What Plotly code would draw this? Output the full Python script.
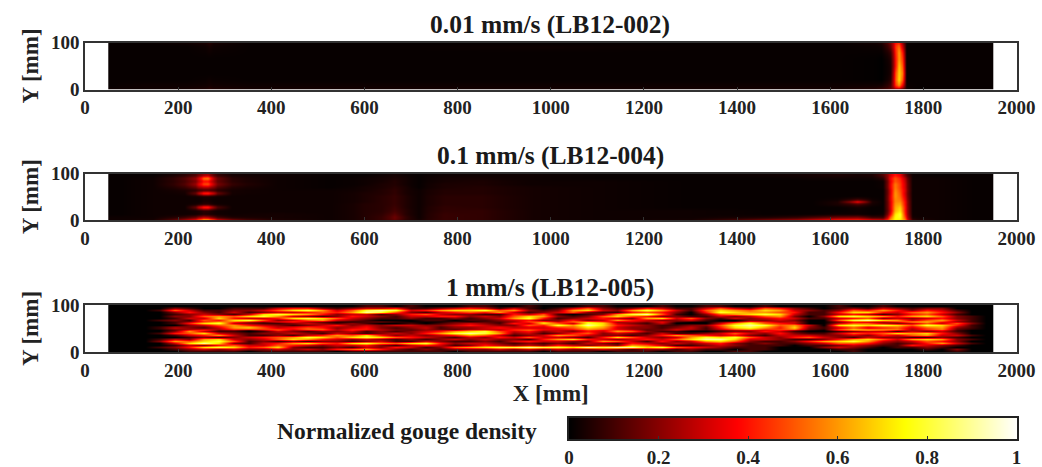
import plotly.graph_objects as go

W, H = 1042, 467
HOT = [[0, "#000000"], [0.375, "#ff0000"], [0.75, "#ffff00"], [1, "#ffffff"]]
TICKS_X = [0, 200, 400, 600, 800, 1000, 1200, 1400, 1600, 1800, 2000]
TICKS_Y = [0, 100]
TICKS_C = [0, 0.2, 0.4, 0.6, 0.8, 1]
TICKTEXT_C = ["0", "0.2", "0.4", "0.6", "0.8", "1"]
SCALE_C = [0, 0.1, 0.2, 0.3, 0.4, 0.5, 0.6, 0.7, 0.8, 0.9, 1]
TITLES = ["0.01 mm/s (LB12-002)", "0.1 mm/s (LB12-004)", "1 mm/s (LB12-005)"]

# Panel 1: percent density
X_002 = [52, 100, 250, 268, 285, 600, 1000, 1400, 1680, 1712, 1732, 1740, 1748, 1755, 1762, 1775, 1850, 1948]
Y_002 = [2, 8, 20, 35, 50, 65, 80, 92, 98]
Z_002 = [
    [2, 2, 3, 6, 3, 3, 3, 3, 3, 8, 14, 20, 20, 12, 3, 1, 1, 1],
    [1, 2, 2, 3, 2, 2, 2, 2, 2, 3, 10, 45, 60, 35, 2, 1, 1, 1],
    [1, 1, 1, 2, 1, 1, 1, 1, 1, 0, 6, 50, 72, 50, 1, 1, 1, 1],
    [1, 1, 1, 1, 1, 1, 1, 1, 1, 0, 4, 48, 70, 55, 1, 1, 1, 1],
    [1, 1, 1, 1, 1, 1, 1, 1, 1, 0, 4, 40, 68, 50, 1, 1, 1, 1],
    [1, 1, 1, 1, 1, 1, 1, 1, 1, 0, 5, 40, 62, 45, 1, 1, 1, 1],
    [1, 1, 1, 2, 1, 1, 1, 1, 1, 1, 8, 42, 62, 40, 1, 1, 1, 1],
    [1, 1, 1, 3, 1, 1, 2, 1, 1, 2, 14, 45, 55, 30, 1, 1, 1, 1],
    [1, 1, 2, 5, 1, 1, 1, 1, 1, 4, 18, 40, 45, 22, 2, 1, 1, 1],
]

# Panel 2: percent density
X_004 = [52, 150, 228, 244, 254, 264, 276, 292, 400, 550, 600, 640, 665, 685, 710, 760, 850, 950, 1100, 1300,
         1500, 1560, 1620, 1660, 1690, 1715, 1728, 1738, 1750, 1760, 1772, 1800, 1948]
Y_004 = [2, 6, 12, 22, 28, 34, 40, 46, 52, 58, 64, 72, 78, 84, 90, 96]
Z_004 = [
    [2, 3, 24, 50, 66, 64, 46, 18, 4, 2, 5, 8, 14, 7, 3, 8, 7, 3, 2, 3, 18, 30, 40, 42, 34, 30, 60, 75, 72, 58, 8, 2, 1],
    [2, 2, 8, 20, 26, 24, 14, 4, 3, 2, 5, 8, 16, 8, 2, 8, 7, 3, 2, 2, 4, 10, 16, 18, 8, 8, 50, 75, 78, 48, 3, 2, 1],
    [1, 2, 2, 3, 5, 4, 3, 2, 3, 2, 5, 7, 13, 6, 2, 8, 7, 3, 2, 2, 1, 1, 2, 2, 1, 2, 34, 72, 80, 42, 2, 2, 1],
    [1, 2, 2, 4, 6, 6, 3, 2, 2, 2, 5, 6, 10, 6, 2, 7, 7, 3, 2, 2, 1, 1, 1, 2, 1, 1, 28, 64, 72, 40, 2, 2, 1],
    [1, 2, 2, 30, 45, 46, 22, 2, 2, 2, 5, 6, 9, 5, 2, 7, 6, 3, 2, 1, 1, 1, 1, 3, 1, 1, 30, 62, 68, 40, 2, 2, 1],
    [1, 2, 2, 4, 6, 6, 3, 2, 2, 2, 5, 6, 8, 5, 2, 6, 6, 3, 2, 1, 1, 1, 4, 10, 3, 1, 30, 60, 62, 38, 2, 2, 1],
    [1, 2, 2, 2, 4, 4, 2, 2, 2, 2, 4, 6, 8, 5, 2, 6, 6, 3, 2, 1, 1, 1, 4, 36, 4, 1, 30, 58, 58, 38, 2, 2, 1],
    [1, 2, 2, 2, 3, 3, 2, 2, 2, 2, 4, 6, 8, 5, 2, 6, 6, 3, 2, 1, 1, 1, 2, 8, 2, 1, 32, 58, 55, 35, 2, 2, 1],
    [1, 2, 2, 3, 4, 4, 3, 2, 2, 2, 4, 6, 8, 5, 2, 6, 6, 3, 2, 1, 1, 1, 1, 1, 1, 1, 32, 60, 52, 32, 2, 2, 1],
    [1, 2, 3, 28, 44, 46, 30, 3, 2, 2, 4, 5, 7, 4, 2, 5, 5, 3, 2, 1, 1, 1, 1, 1, 1, 1, 30, 60, 50, 30, 2, 2, 1],
    [1, 2, 4, 8, 10, 10, 8, 3, 2, 2, 3, 5, 7, 4, 2, 5, 5, 3, 2, 1, 1, 1, 1, 1, 1, 1, 30, 58, 48, 32, 2, 2, 1],
    [1, 2, 8, 22, 26, 26, 18, 5, 2, 1, 3, 4, 6, 4, 1, 4, 5, 3, 2, 1, 1, 1, 1, 1, 1, 2, 34, 56, 46, 30, 2, 2, 1],
    [1, 2, 12, 34, 48, 50, 28, 8, 2, 1, 2, 4, 5, 3, 1, 4, 4, 2, 2, 1, 1, 1, 1, 1, 1, 2, 34, 56, 46, 30, 2, 2, 1],
    [1, 2, 10, 26, 38, 38, 22, 6, 2, 1, 2, 3, 5, 3, 1, 3, 4, 2, 2, 1, 1, 1, 1, 1, 1, 2, 32, 50, 44, 28, 2, 2, 1],
    [1, 2, 12, 32, 55, 58, 26, 6, 2, 1, 2, 3, 4, 3, 1, 3, 3, 2, 1, 1, 1, 2, 2, 2, 2, 6, 36, 50, 42, 26, 2, 2, 1],
    [1, 1, 6, 16, 22, 24, 12, 3, 2, 1, 1, 2, 3, 2, 1, 2, 2, 2, 1, 1, 2, 3, 4, 3, 4, 12, 30, 40, 34, 16, 2, 1, 1],
]

# Panel 3: tenths of full scale, first row at the top of the strip
Y_005 = [98, 94, 90, 86, 81, 77, 73, 69, 65, 61, 57, 52, 48, 44, 40, 36, 32, 27, 23, 19, 15, 11, 6, 2]
X_005 = [66, 98, 130, 161, 193, 224, 256, 288, 319, 351, 383, 414, 446, 478, 509, 541, 573, 604, 636, 668,
         699, 731, 763, 794, 826, 858, 889, 921, 953, 984, 1016, 1048, 1079, 1111, 1143, 1174, 1206, 1238, 1269, 1301,
         1333, 1364, 1396, 1428, 1459, 1491, 1523, 1554, 1586, 1618, 1649, 1681, 1713, 1744, 1776, 1808, 1839, 1871, 1903, 1934]
Z_005 = [
    [0,0,0,0,0,0,0,0,0,0, 0,0,0,0,0,0,0,1,1,0, 1,0,0,0,1,1,0,0,1,0, 0,0,1,1,0,0,0,1,0,0, 1,1,0,0,1,0,0,0,0,1, 0,0,1,0,0,0,0,0,0,0],
    [0,0,0,0,2,1,0,0,1,1, 1,3,4,4,2,1,2,3,3,4, 1,1,2,3,4,3,1,3,1,0, 1,3,5,2,1,2,4,3,1,1, 3,5,3,2,5,4,2,1,0,1, 2,1,3,2,1,2,2,0,0,0],
    [0,0,0,1,5,3,1,1,2,2, 3,5,7,8,6,3,5,8,9,8, 3,4,6,7,7,8,5,6,2,1, 2,6,7,3,2,6,8,6,3,1, 5,7,6,5,7,6,3,2,1,2, 5,4,6,4,2,4,3,1,0,0],
    [0,0,0,0,2,4,2,1,3,1, 2,3,3,4,5,4,6,9,8,5, 2,1,3,4,5,4,6,3,1,2, 3,5,2,1,1,4,5,4,2,0, 4,8,7,6,6,5,4,1,1,4, 7,7,4,3,5,6,4,2,0,0],
    [0,0,0,0,1,2,3,2,1,3, 7,8,7,6,4,2,3,3,1,2, 4,5,3,2,2,1,1,4,3,5, 1,0,1,2,6,8,9,5,1,0, 2,5,6,7,8,7,3,1,1,3, 4,3,1,2,4,5,3,1,0,0],
    [0,0,0,0,2,2,5,6,5,7, 8,6,3,2,1,2,4,3,2,1, 3,3,4,4,2,3,2,5,7,6, 2,1,2,5,7,5,4,2,2,1, 1,3,2,3,5,6,2,0,2,7, 8,7,6,4,6,7,5,2,1,0],
    [0,0,0,0,1,3,3,7,4,3, 3,4,7,8,7,5,3,2,1,1, 2,1,1,2,1,2,3,6,8,4, 1,2,3,4,3,2,6,7,3,5, 2,1,3,2,3,4,3,1,1,3, 4,5,2,3,2,3,4,2,1,0],
    [0,0,0,1,2,1,5,4,7,8, 5,2,3,5,6,3,2,1,0,0, 0,1,1,0,1,1,2,3,4,2, 2,4,2,3,6,4,3,2,2,3, 1,0,0,2,2,3,2,0,0,5, 8,9,7,6,3,5,6,3,1,0],
    [0,0,0,0,1,2,4,6,5,3, 2,4,5,2,1,0,0,1,2,1, 0,0,0,1,0,1,1,2,5,6, 3,6,7,5,2,3,2,4,1,0, 0,1,2,5,4,2,3,0,0,1, 3,2,2,4,7,7,4,2,1,0],
    [0,0,0,0,1,4,7,8,3,2, 1,1,2,3,2,1,2,1,0,0, 1,0,1,2,3,2,1,4,3,7, 5,3,8,7,3,2,1,3,0,0, 0,3,6,8,5,4,3,0,0,3, 5,5,3,2,3,5,3,5,2,0],
    [0,0,0,0,0,2,3,5,6,4, 3,2,1,2,3,4,2,3,2,3, 3,2,2,3,4,3,2,2,5,4, 8,6,9,7,4,3,2,1,1,2, 2,5,8,9,8,5,6,3,0,7, 8,7,8,7,5,8,7,4,1,0],
    [0,0,0,1,3,2,1,3,6,7, 5,3,4,5,4,2,3,4,2,1, 2,3,1,2,2,3,4,3,3,3, 4,5,7,6,3,2,2,1,2,3, 1,4,7,8,6,4,7,2,1,3, 5,3,4,5,3,5,6,2,1,0],
    [0,0,0,0,1,3,5,2,3,2, 4,6,3,5,6,3,5,4,3,2, 1,2,2,1,3,3,2,5,6,4, 3,3,5,4,4,3,1,2,4,2, 1,2,3,4,3,5,4,1,0,6, 8,8,7,6,2,4,5,1,0,0],
    [0,0,0,0,2,6,3,1,1,0, 1,3,2,1,2,2,3,1,2,1, 2,3,4,6,7,8,5,3,4,2, 3,2,4,3,6,5,2,1,1,0, 0,1,2,2,4,3,1,0,0,1, 2,3,3,1,3,2,3,1,0,0],
    [0,0,0,1,4,5,7,3,2,1, 2,2,3,2,1,3,2,1,2,3, 2,4,6,8,9,8,6,2,3,1, 2,4,5,2,3,2,1,3,1,1, 2,3,5,3,2,4,2,1,1,3, 5,4,5,7,6,7,4,2,0,0],
    [0,0,0,0,1,3,4,6,3,1, 1,2,1,3,4,6,5,7,4,2, 3,2,3,4,6,5,3,1,2,3, 6,5,3,2,2,1,2,4,6,5, 4,3,4,2,1,3,3,3,2,2, 3,2,4,3,5,6,3,3,1,0],
    [0,0,0,0,0,1,2,1,2,3, 4,5,6,8,7,5,7,8,7,5, 4,3,2,1,3,2,4,3,5,3, 3,2,1,4,7,5,3,2,3,6, 8,7,8,5,3,2,4,5,3,2, 1,3,2,2,1,1,2,1,0,0],
    [0,0,0,1,3,2,6,7,3,2, 3,5,7,6,4,3,2,3,2,1, 2,1,2,3,2,3,2,2,1,4, 6,7,4,3,2,3,4,3,5,7, 9,9,7,3,3,2,1,1,2,4, 6,7,5,3,6,7,6,2,1,0],
    [0,0,0,2,6,5,7,8,5,1, 2,1,2,1,2,2,1,2,3,1, 1,3,2,1,1,2,1,3,4,3, 3,2,2,6,5,3,1,4,2,3, 6,7,5,2,1,1,2,4,6,7, 8,6,3,2,3,5,4,2,0,0],
    [0,0,0,0,3,7,9,7,2,1, 3,4,6,7,5,4,7,8,6,5, 7,8,4,2,3,3,2,1,2,1, 2,1,3,2,1,4,3,2,3,2, 3,4,2,1,2,1,1,2,3,5, 5,4,2,1,2,4,6,3,1,0],
    [0,0,0,0,1,3,2,4,5,3, 3,5,4,3,2,3,3,4,2,1, 3,4,3,1,2,4,3,2,3,2, 4,3,2,3,2,6,5,3,1,1, 2,3,2,1,1,1,0,1,1,2, 3,2,1,1,4,3,2,1,0,0],
    [0,0,0,1,2,4,7,8,7,4, 5,7,2,1,1,2,1,3,2,4, 3,1,2,5,6,7,8,8,9,8, 8,7,9,8,9,9,7,8,5,4, 3,2,1,1,1,0,0,0,2,3, 2,1,0,1,1,2,1,0,0,0],
    [0,0,0,0,1,2,3,2,3,2, 2,3,2,3,2,4,5,6,4,2, 1,2,1,2,2,2,3,2,3,2, 3,2,2,3,2,1,2,2,1,2, 1,1,0,1,1,0,0,0,0,1, 1,0,0,0,0,1,0,2,0,0],
    [0,0,0,0,0,1,1,1,1,0, 1,1,1,1,1,0,1,1,1,1, 1,1,1,0,1,1,1,1,1,0, 1,1,1,0,1,1,1,0,1,1, 0,0,1,1,0,0,0,0,0,0, 1,0,0,0,0,0,0,1,0,0],
]


def py(px):
    return 1 - px / H


def edges(c, lo, hi):
    """Cell boundaries for cell centres c, clipped to the gouge extent."""
    inner = [(a + b) / 2 for a, b in zip(c[:-1], c[1:])]
    return [lo] + inner + [hi]


def hm(xs, ys, rows, scale, xa, ya):
    return go.Heatmap(
        x=edges(xs, 50, 1950), y=ys, z=[[v / scale for v in r] for r in rows],
        colorscale=HOT, zmin=0, zmax=1, zsmooth="best",
        xaxis=xa, yaxis=ya, showscale=False, hoverinfo="skip",
    )


fig = go.Figure([
    hm(X_002, edges(Y_002, 0, 100), Z_002, 100, "x", "y"),
    hm(X_004, edges(Y_004, 0, 100), Z_004, 100, "x2", "y2"),
    hm(X_005, edges(Y_005[::-1], 0, 100), Z_005[::-1], 10, "x3", "y3"),
    go.Heatmap(x=SCALE_C, y=[0, 1], z=[SCALE_C, SCALE_C], colorscale=HOT, zmin=0, zmax=1, zsmooth="best",
               xaxis="x4", yaxis="y4", showscale=False, hoverinfo="skip"),
])

SERIF = "Liberation Serif"
TICKFONT = dict(family=SERIF, size=19, color="#222", weight="bold")
LABELFONT = dict(family=SERIF, size=23, color="#222")
BANDS = [(42.5, 89.5), (173.5, 220), (305, 352)]
layout = dict(
    width=W, height=H, margin=dict(l=0, r=0, t=0, b=0, autoexpand=False),
    paper_bgcolor="white", plot_bgcolor="white", showlegend=False,
    font=dict(family=SERIF), annotations=[],
)
for i, (top, bot) in enumerate(BANDS):
    s = "" if i == 0 else str(i + 1)
    layout["xaxis" + s] = dict(
        domain=[85 / W, 1016.5 / W], range=[0, 2000], anchor="y" + s, tickmode="array", tickvals=TICKS_X,
        tickfont=TICKFONT, ticks="inside", ticklen=3, tickcolor="#333", automargin=False,
        showgrid=False, zeroline=False, mirror=True, showline=True, linecolor="#333", linewidth=1.5,
    )
    layout["yaxis" + s] = dict(
        domain=[py(bot), py(top)], range=[0, 100], anchor="x" + s, tickmode="array", tickvals=TICKS_Y,
        tickfont=TICKFONT, ticks="inside", ticklen=3, tickcolor="#333", automargin=False,
        showgrid=False, zeroline=False, mirror=True, showline=True, linecolor="#333", linewidth=1.5,
        title=dict(text="<b>Y [mm]</b>", font=LABELFONT, standoff=6),
    )
    layout["annotations"].append(dict(
        text="<b>%s</b>" % TITLES[i], xref="paper", yref="paper", x=550 / W, y=py(top - 18), yanchor="middle",
        xanchor="center", showarrow=False, font=dict(family=SERIF, size=25.5, color="#1a1a1a"),
    ))
layout["xaxis3"]["title"] = dict(text="<b>X [mm]</b>", font=LABELFONT, standoff=4)
layout["xaxis4"] = dict(
    domain=[569 / W, 1016.5 / W], range=[0, 1], anchor="y4", tickmode="array", tickvals=TICKS_C, ticktext=TICKTEXT_C,
    tickfont=TICKFONT, ticks="inside", ticklen=3, tickcolor="#333", automargin=False,
    showgrid=False, zeroline=False, mirror=True, showline=True, linecolor="#222", linewidth=1.5,
)
layout["yaxis4"] = dict(
    domain=[py(439), py(418)], range=[0, 1], anchor="x4", showticklabels=False, ticks="", automargin=False,
    showgrid=False, zeroline=False, mirror=True, showline=True, linecolor="#222", linewidth=1.5,
)
layout["annotations"].append(dict(
    text="<b>Normalized gouge density</b>", xref="paper", yref="paper", x=539 / W, y=py(431), yanchor="middle",
    xanchor="right", showarrow=False, font=dict(family=SERIF, size=23.5, color="#1a1a1a"),
))
fig.update_layout(**layout)
fig.write_html("out.html", config={"displayModeBar": False}, post_script="document.body.style.margin='0';")
